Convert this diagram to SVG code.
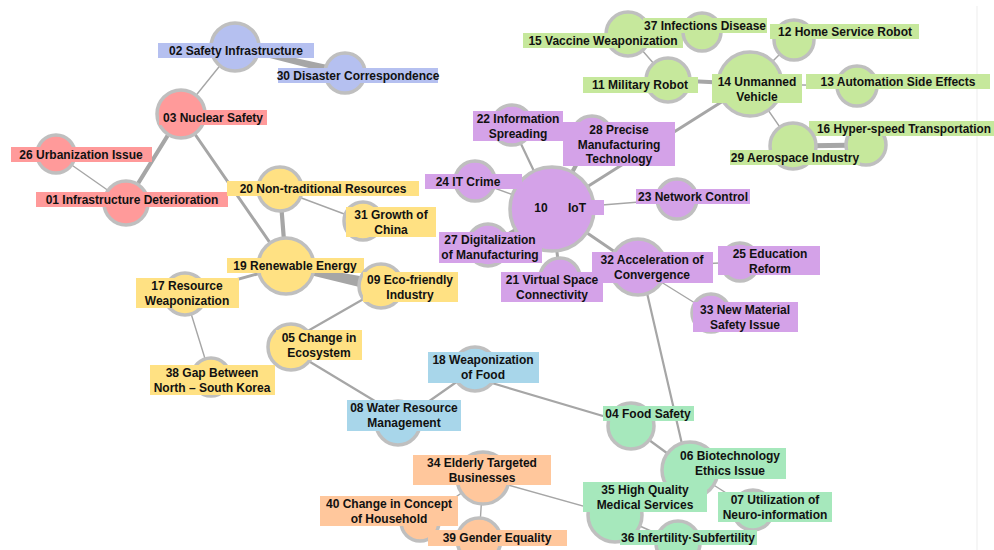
<svg xmlns="http://www.w3.org/2000/svg" width="994" height="550" viewBox="0 0 994 550">
<style>
.c{stroke:#bfbfbf;stroke-width:3.5}
.red{fill:#ff9a9a}.lav{fill:#b5c0f0}.yel{fill:#ffe183}.pur{fill:#d4a2e8}
.lgr{fill:#c6e89c}.blu{fill:#a8d6ea}.min{fill:#a6e8bc}.ora{fill:#ffc79c}
.t{font-family:"Liberation Sans",Arial,sans-serif;font-size:12px;font-weight:bold;fill:#111;text-anchor:middle}
.e{stroke:#a6a6a6;fill:none;stroke-linecap:round}
.ew{fill:#a6a6a6;stroke:none}
.w1{stroke-width:1.4}.w2{stroke-width:2.2}.w3{stroke-width:3}.w4{stroke-width:4.2}.w5{stroke-width:5}
</style>
<rect width="994" height="550" fill="#ffffff"/>
<line x1="977" y1="6" x2="977" y2="550" stroke="#ededed" stroke-width="1"/>
<g id="connectors">
<path class="ew" d="M235.5,45 L345.9,69 L344.1,77 L234.5,49 Z"/>
<path class="ew" d="M286.6,263 L382.2,280 L379.8,292 L285.4,269 Z"/>
<line class="e w1" x1="235" y1="47" x2="181" y2="114"/>
<line class="e w4" x1="181" y1="114" x2="126" y2="203"/>
<line class="e w3" x1="181" y1="114" x2="286" y2="266"/>
<line class="e w1" x1="56" y1="154" x2="126" y2="203"/>
<line class="e w4" x1="280" y1="190" x2="286" y2="266"/>
<line class="e w1" x1="280" y1="190" x2="363" y2="221"/>
<line class="e w3" x1="286" y1="266" x2="185" y2="294"/>
<line class="e w1" x1="185" y1="294" x2="211" y2="378"/>
<line class="e w2" x1="381" y1="289" x2="292" y2="340"/>
<line class="e w2" x1="292" y1="351" x2="398" y2="415"/>
<line class="e w2" x1="398" y1="423" x2="475" y2="369"/>
<line class="e w2" x1="475" y1="378" x2="630" y2="424"/>
<line class="e w2" x1="630" y1="426" x2="690" y2="470"/>
<line class="e w2" x1="641" y1="267" x2="688" y2="470"/>
<line class="e w1" x1="690" y1="470" x2="753" y2="510"/>
<line class="e w1" x1="690" y1="470" x2="615" y2="515"/>
<line class="e w1" x1="615" y1="515" x2="678" y2="543"/>
<line class="e w1" x1="483" y1="478" x2="615" y2="515"/>
<line class="e w1" x1="483" y1="478" x2="479" y2="540"/>
<line class="e w1" x1="483" y1="478" x2="420" y2="522"/>
<line class="e w2" x1="552" y1="209" x2="512" y2="125"/>
<line class="e w4" x1="552" y1="209" x2="592" y2="136"/>
<line class="e w3" x1="552" y1="209" x2="750" y2="84"/>
<line class="e w1" x1="552" y1="209" x2="475" y2="181"/>
<line class="e w3" x1="552" y1="209" x2="488" y2="245"/>
<line class="e w3" x1="552" y1="209" x2="560" y2="278"/>
<line class="e w1" x1="552" y1="209" x2="677" y2="199"/>
<line class="e w3" x1="552" y1="209" x2="637" y2="267"/>
<line class="e w1" x1="637" y1="267" x2="740" y2="262"/>
<line class="e w1" x1="637" y1="267" x2="711" y2="313"/>
<line class="e w4" x1="750" y1="84" x2="668" y2="80"/>
<line class="e w1" x1="668" y1="80" x2="628" y2="34"/>
<line class="e w1" x1="628" y1="34" x2="702" y2="32"/>
<line class="e w1" x1="750" y1="84" x2="794" y2="40"/>
<line class="e w1" x1="750" y1="84" x2="857" y2="86"/>
<line class="e w1" x1="750" y1="84" x2="793" y2="146"/>
<line class="e w5" x1="793" y1="146" x2="866" y2="145"/>
</g>
<g id="n02"><circle class="c lav" cx="235" cy="47" r="24"/><rect class="lav" x="158" y="43" width="156" height="15"/><text class="t" x="236" y="55">02 Safety Infrastructure</text></g>
<g id="n30"><circle class="c lav" cx="345" cy="73" r="20"/><rect class="lav" x="278" y="68" width="160" height="15"/><text class="t" x="358" y="80">30 Disaster Correspondence</text></g>
<g id="n03"><circle class="c red" cx="181" cy="114" r="24"/><rect class="red" x="159" y="110" width="108" height="15"/><text class="t" x="213" y="122">03 Nuclear Safety</text></g>
<g id="n26"><circle class="c red" cx="56" cy="154" r="19"/><rect class="red" x="11" y="147" width="141" height="15"/><text class="t" x="81" y="159">26 Urbanization Issue</text></g>
<g id="n01"><circle class="c red" cx="126" cy="203" r="22"/><rect class="red" x="36" y="192" width="192" height="15"/><text class="t" x="132" y="204">01 Infrastructure Deterioration</text></g>
<g id="n20"><circle class="c yel" cx="280" cy="189" r="22"/><rect class="yel" x="227" y="181" width="192" height="15"/><text class="t" x="323" y="193">20 Non-traditional Resources</text></g>
<g id="n31"><circle class="c yel" cx="363" cy="221" r="19"/><rect class="yel" x="346" y="207" width="90" height="30"/><text class="t" x="391" y="219">31 Growth of<tspan x="391" dy="15">China</tspan></text></g>
<g id="n19"><circle class="c yel" cx="286" cy="266" r="28"/><rect class="yel" x="227" y="258" width="137" height="15"/><text class="t" x="295" y="270">19 Renewable Energy</text></g>
<g id="n09"><circle class="c yel" cx="381" cy="286" r="22"/><rect class="yel" x="363" y="272" width="95" height="30"/><text class="t" x="410" y="284">09 Eco-friendly<tspan x="410" dy="15">Industry</tspan></text></g>
<g id="n17"><circle class="c yel" cx="185" cy="294" r="21"/><rect class="yel" x="136" y="278" width="103" height="30"/><text class="t" x="187" y="290">17 Resource<tspan x="187" dy="15">Weaponization</tspan></text></g>
<g id="n05"><circle class="c yel" cx="291" cy="347" r="23"/><rect class="yel" x="276" y="330" width="86" height="30"/><text class="t" x="319" y="342">05 Change in<tspan x="319" dy="15">Ecosystem</tspan></text></g>
<g id="n38"><circle class="c yel" cx="211" cy="377" r="19"/><rect class="yel" x="150" y="365" width="125" height="30"/><text class="t" x="212" y="377">38 Gap Between<tspan x="212" dy="15">North – South Korea</tspan></text></g>
<g id="n18"><circle class="c blu" cx="475" cy="369" r="22"/><rect class="blu" x="428" y="352" width="111" height="31"/><text class="t" x="483" y="364">18 Weaponization<tspan x="483" dy="15">of Food</tspan></text></g>
<g id="n08"><circle class="c blu" cx="398" cy="423" r="22"/><rect class="blu" x="347" y="400" width="114" height="31"/><text class="t" x="404" y="412">08 Water Resource<tspan x="404" dy="15">Management</tspan></text></g>
<g id="n04"><circle class="c min" cx="631" cy="426" r="23"/><rect class="min" x="603" y="406" width="91" height="15"/><text class="t" x="648" y="418">04 Food Safety</text></g>
<g id="n06"><circle class="c min" cx="690" cy="470" r="28"/><rect class="min" x="675" y="448" width="111" height="31"/><text class="t" x="730" y="460">06 Biotechnology<tspan x="730" dy="15">Ethics Issue</tspan></text></g>
<g id="n07"><circle class="c min" cx="753" cy="510" r="20"/><rect class="min" x="718" y="492" width="114" height="30"/><text class="t" x="775" y="504">07 Utilization of<tspan x="775" dy="15">Neuro-information</tspan></text></g>
<g id="n35"><circle class="c min" cx="615" cy="515" r="27"/><rect class="min" x="583" y="482" width="124" height="30"/><text class="t" x="645" y="494">35 High Quality<tspan x="645" dy="15">Medical Services</tspan></text></g>
<g id="n36"><circle class="c min" cx="678" cy="543" r="22"/><rect class="min" x="620" y="530" width="137" height="15"/><text class="t" x="688" y="542">36 Infertility·Subfertility</text></g>
<g id="n34"><circle class="c ora" cx="483" cy="478" r="26"/><rect class="ora" x="413" y="455" width="138" height="30"/><text class="t" x="482" y="467">34 Elderly Targeted<tspan x="482" dy="15">Businesses</tspan></text></g>
<g id="n40"><circle class="c ora" cx="420" cy="522" r="19"/><rect class="ora" x="320" y="496" width="138" height="30"/><text class="t" x="389" y="508">40 Change in Concept<tspan x="389" dy="15">of Household</tspan></text></g>
<g id="n39"><circle class="c ora" cx="479" cy="540" r="22"/><rect class="ora" x="428" y="530" width="139" height="16"/><text class="t" x="497" y="542">39 Gender Equality</text></g>
<g id="n10"><circle class="c pur" cx="552" cy="209" r="42"/><rect class="pur" x="530" y="200" width="74" height="15"/><text class="t" x="541" y="212">10<tspan x="577">IoT</tspan></text></g>
<g id="n22"><circle class="c pur" cx="512" cy="125" r="20"/><rect class="pur" x="473" y="111" width="90" height="30"/><text class="t" x="518" y="123">22 Information<tspan x="518" dy="15">Spreading</tspan></text></g>
<g id="n28"><circle class="c pur" cx="592" cy="136" r="20"/><rect class="pur" x="563" y="122" width="112" height="44"/><text class="t" x="619" y="134">28 Precise<tspan x="619" dy="14.5">Manufacturing</tspan><tspan x="619" dy="14.5">Technology</tspan></text></g>
<g id="n24"><circle class="c pur" cx="475" cy="181" r="20"/><rect class="pur" x="425" y="174" width="97" height="15"/><text class="t" x="468" y="186">24 IT Crime</text></g>
<g id="n27"><circle class="c pur" cx="488" cy="245" r="21"/><rect class="pur" x="439" y="232" width="103" height="31"/><text class="t" x="490" y="244">27 Digitalization<tspan x="490" dy="15">of Manufacturing</tspan></text></g>
<g id="n32"><circle class="c pur" cx="638" cy="267" r="28"/><rect class="pur" x="592" y="252" width="121" height="31"/><text class="t" x="652" y="264">32 Acceleration of<tspan x="652" dy="15">Convergence</tspan></text></g>
<g id="n21"><circle class="c pur" cx="560" cy="278" r="20"/><rect class="pur" x="501" y="272" width="102" height="30"/><text class="t" x="552" y="284">21 Virtual Space<tspan x="552" dy="15">Connectivity</tspan></text></g>
<g id="n23"><circle class="c pur" cx="677" cy="199" r="20"/><rect class="pur" x="636" y="189" width="114" height="15"/><text class="t" x="693" y="201">23 Network Control</text></g>
<g id="n25"><circle class="c pur" cx="740" cy="262" r="19"/><rect class="pur" x="718" y="246" width="102" height="29"/><text class="t" x="770" y="258">25 Education<tspan x="770" dy="14.5">Reform</tspan></text></g>
<g id="n33"><circle class="c pur" cx="711" cy="313" r="19"/><rect class="pur" x="693" y="302" width="105" height="30"/><text class="t" x="745" y="314">33 New Material<tspan x="745" dy="15">Safety Issue</tspan></text></g>
<g id="n15"><circle class="c lgr" cx="628" cy="34" r="22"/><rect class="lgr" x="523" y="33" width="160" height="15"/><text class="t" x="603" y="45">15 Vaccine Weaponization</text></g>
<g id="n37"><circle class="c lgr" cx="702" cy="32" r="19"/><rect class="lgr" x="643" y="18" width="124" height="15"/><text class="t" x="705" y="30">37 Infections Disease</text></g>
<g id="n11"><circle class="c lgr" cx="668" cy="80" r="22"/><rect class="lgr" x="583" y="77" width="115" height="16"/><text class="t" x="640" y="89">11 Military Robot</text></g>
<g id="n14"><circle class="c lgr" cx="750" cy="84" r="32"/><rect class="lgr" x="712" y="74" width="90" height="29"/><text class="t" x="757" y="86">14 Unmanned<tspan x="757" dy="14.5">Vehicle</tspan></text></g>
<g id="n12"><circle class="c lgr" cx="794" cy="40" r="20"/><rect class="lgr" x="770" y="24" width="149" height="15"/><text class="t" x="845" y="36">12 Home Service Robot</text></g>
<g id="n13"><circle class="c lgr" cx="857" cy="86" r="20"/><rect class="lgr" x="806" y="74" width="184" height="15"/><text class="t" x="898" y="86">13 Automation Side Effects</text></g>
<g id="n16"><circle class="c lgr" cx="866" cy="145" r="20"/><rect class="lgr" x="809" y="121" width="185" height="15"/><text class="t" x="817" y="133" style="text-anchor:start" textLength="174" lengthAdjust="spacingAndGlyphs">16 Hyper-speed Transportation</text></g>
<g id="n29"><circle class="c lgr" cx="793" cy="146" r="23"/><rect class="lgr" x="730" y="150" width="130" height="15"/><text class="t" x="795" y="162">29 Aerospace Industry</text></g>
</svg>
